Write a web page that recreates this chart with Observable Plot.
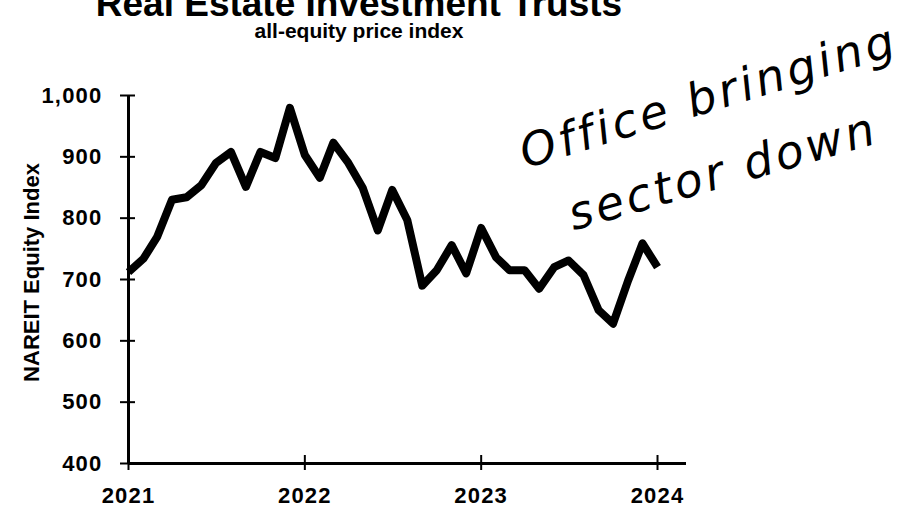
<!DOCTYPE html>
<html>
<head>
<meta charset="utf-8">
<script src="https://cdn.jsdelivr.net/npm/d3@7"></script>
<script src="https://cdn.jsdelivr.net/npm/@observablehq/plot@0.6"></script>
<style>
  html, body { margin: 0; padding: 0; background: white; }
  #wrap { position: relative; width: 907px; height: 507px; overflow: hidden; background: white; }
  #title, #subtitle { position: absolute; left: 0; width: 718px; text-align: center; font-family: 'Liberation Sans', Arial, sans-serif; font-weight: bold; color: black; white-space: nowrap; }
  #title { top: -6px; font-size: 37px; line-height: 20px; }
  #subtitle { top: 20px; font-size: 21px; line-height: 21px; }
  #chart { position: absolute; left: 0; top: 0; }
  #chart svg g[aria-label="y-axis tick label"] text,
  #chart svg g[aria-label="x-axis tick label"] text { font-size: 22px; font-weight: bold; letter-spacing: 1.2px; }
</style>
</head>
<body>
<div id="wrap">
  <div id="chart"></div>
  <div id="title">Real Estate Investment Trusts</div>
  <div id="subtitle">all-equity price index</div>
</div>
<script>
// ---- data (monthly NAREIT all-equity price index) ----
const years = [2021, 2022, 2023, 2024];
const values2021 = [712, 734, 769, 830, 834, 854, 890, 908, 851, 908, 898, 980];
const values2022 = [903, 866, 923, 890, 849, 780, 846, 797, 690, 715, 756, 710];
const values2023 = [784, 736, 715, 715, 685, 720, 731, 707, 650, 628, 698, 759];
const values2024 = [720];
const yTicks = [400, 500, 600, 700, 800, 900, 1000];
const xTickYears = [2021, 2022, 2023, 2024];
const yLabel = "NAREIT Equity Index";
const noteLine1 = "Office bringing";
const noteLine2 = "sector down";

const series = [values2021, values2022, values2023, values2024];
const data = [];
series.forEach((vals, i) => vals.forEach((v, m) => data.push({date: new Date(Date.UTC(years[i], m, 1)), value: v})));
const xTicks = xTickYears.map(y => new Date(Date.UTC(y, 0, 1)));

const font = "'Liberation Sans', Arial, sans-serif";
const hand = "'DejaVu Sans', sans-serif";
const blank = () => "";

const chart = Plot.plot({
  width: 907,
  height: 507,
  marginLeft: 128,
  marginRight: 221,
  marginTop: 95,
  marginBottom: 44,
  x: {type: "utc", domain: [new Date(Date.UTC(2021, 0, 1)), new Date(Date.UTC(2024, 2, 1))]},
  y: {domain: [400, 1000]},
  style: {fontFamily: font, fontWeight: "bold", fontSize: "22px", color: "black", background: "transparent", overflow: "visible"},
  marks: [
    Plot.ruleY([400], {strokeWidth: 3}),
    Plot.ruleX([xTicks[0]], {strokeWidth: 3}),
    Plot.axisY({ticks: yTicks, tickSize: 0, tickPadding: 26, tickFormat: d3.format(","), fontSize: 22, fontWeight: "bold", label: null}),
    Plot.axisY({ticks: yTicks, tickSize: 15, dx: 7, strokeWidth: 2, tickFormat: blank, label: null}),
    Plot.axisX({ticks: xTicks, tickSize: 0, tickPadding: 24, tickFormat: d3.utcFormat("%Y"), fontSize: 22, fontWeight: "bold", label: null}),
    Plot.axisX({ticks: xTicks, tickSize: 15, dy: -8, strokeWidth: 2, tickFormat: blank, label: null}),
    Plot.line(data, {x: "date", y: "value", stroke: "black", strokeWidth: 8, strokeLinejoin: "round", strokeLinecap: "butt"}),
    Plot.text([yLabel], {frameAnchor: "left", textAnchor: "middle", rotate: -90, dx: -97, dy: -7, fontSize: 22, fontWeight: "bold", fontFamily: font}),
    Plot.text([noteLine1], {frameAnchor: "top-left", dx: 397, dy: 73, rotate: -17, textAnchor: "start", lineAnchor: "bottom", fontSize: 46, fontFamily: hand, fontStyle: "italic", fontWeight: "normal"}),
    Plot.text([noteLine2], {frameAnchor: "top-left", dx: 445, dy: 135, rotate: -16, textAnchor: "start", lineAnchor: "bottom", fontSize: 46, fontFamily: hand, fontStyle: "italic", fontWeight: "normal"})
  ]
});
d3.select(chart).selectAll("text")
  .filter(function () { const t = this.textContent; return t === noteLine1 || t === noteLine2; })
  .style("letter-spacing", "3.5px");
document.getElementById("chart").appendChild(chart);
</script>
</body>
</html>
